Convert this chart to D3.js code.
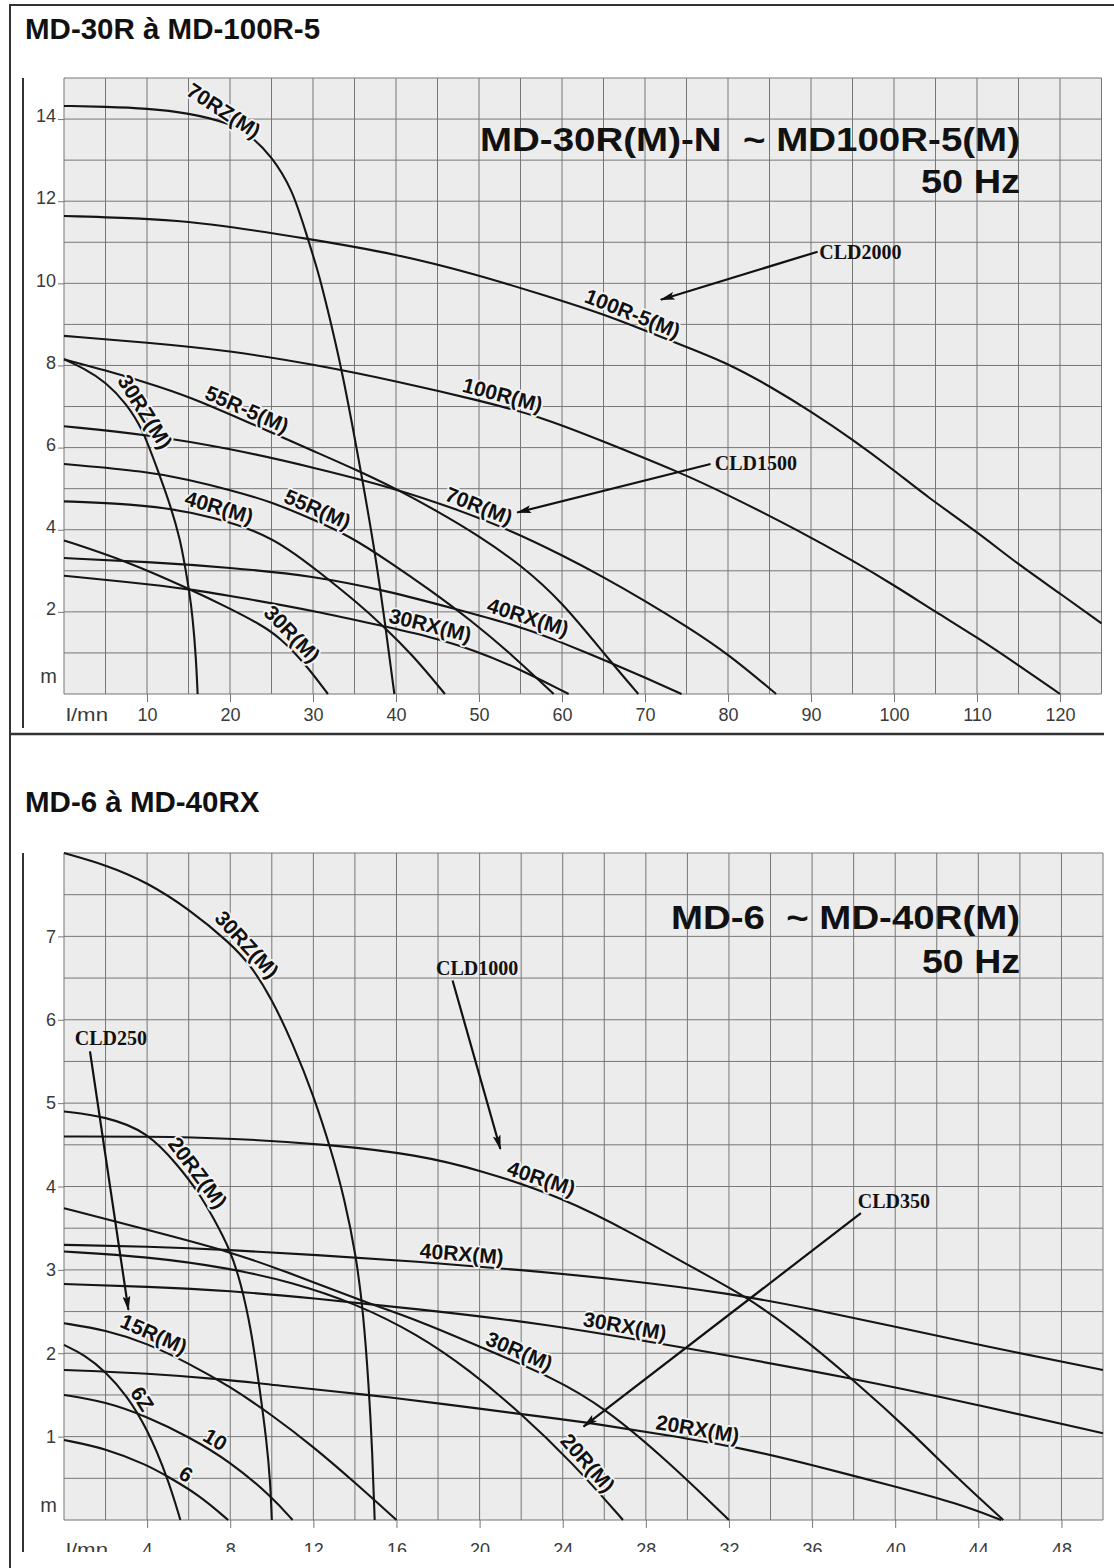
<!DOCTYPE html>
<html><head><meta charset="utf-8">
<script src="https://cdn.jsdelivr.net/npm/d3@7"></script>
<style>
body{margin:0;background:#fff;}
svg{display:block;}
</style></head><body>
<svg id="chart" width="1114" height="1568"></svg>
<script>
// ---------------- TOP CHART DATA (x: l/mn, y: m) ----------------
const topTitle = "MD-30R à MD-100R-5";
const topInner = ["MD-30R(M)-N  ~ MD100R-5(M)", "50 Hz"];
const topXTicks = [10,20,30,40,50,60,70,80,90,100,110,120];
const topYTicks = [2,4,6,8,10,12,14];
const top70RZ = [[0,14.32],[5,14.3],[10,14.26],[15,14.15],[20,13.9],[22.5,13.6],[25,13.1],[27.5,12.3],[29.2,11.2],[30.6,10.3],[31.6,9.5],[33.5,7.9],[35.7,5.5],[37.4,3.55],[38.7,1.7],[39.8,0]];
const top100R5 = [[0,11.64],[10,11.58],[15,11.5],[20,11.38],[29,11.1],[40,10.72],[50,10.2],[58,9.7],[65,9.25],[70,8.85],[75,8.45],[80,8.05],[85,7.5],[90,6.88],[95,6.2],[100,5.45],[104,4.8],[110,3.95],[115,3.15],[120,2.45],[125,1.72]];
const top100R = [[0,8.72],[10,8.56],[20,8.36],[30,8.03],[40,7.62],[50,7.15],[57.5,6.75],[65,6.15],[74.2,5.4],[80,4.85],[88.6,3.97],[95,3.25],[100,2.65],[105,2.0],[110,1.38],[115,0.7],[120,0]];
const top55R5 = [[0,8.15],[5,7.88],[10,7.58],[15,7.25],[22.4,6.6],[30,5.92],[35,5.48],[40,5.0],[45,4.45],[50,3.85],[55,3.15],[60,2.25],[65.4,0.9],[69.2,0]];
const top30RZ = [[0,8.15],[2.5,7.92],[5,7.6],[7.5,7.08],[9.5,6.44],[11.2,5.5],[12.9,4.55],[14,3.75],[14.5,3.2],[15.1,2.5],[15.5,1.87],[15.9,0.9],[16.1,0]];
const top70R = [[0,6.52],[10,6.32],[20,5.98],[30,5.52],[40,5.0],[47,4.52],[54,3.97],[60,3.38],[65,2.85],[70,2.27],[75,1.65],[80,0.98],[85.8,0]];
const top55R = [[0,5.6],[10,5.42],[15,5.22],[20,4.97],[25,4.68],[30,4.25],[34.4,3.85],[39.2,3.22],[44,2.55],[49,1.8],[54,0.95],[59,0]];
const top40R = [[0,4.69],[6,4.65],[12.7,4.53],[18,4.3],[23.2,3.97],[27,3.55],[31.2,2.9],[35,2.28],[38.4,1.67],[42,0.95],[45.9,0]];
const top40RX = [[0,3.31],[10,3.22],[20,3.08],[30,2.88],[39.2,2.5],[47,2.08],[55.7,1.6],[60,1.25],[65.4,0.8],[70,0.4],[74.4,0]];
const top30RX = [[0,2.88],[7.5,2.73],[15.1,2.56],[22,2.32],[30,2.03],[38.5,1.65],[44,1.4],[49.3,1.08],[55,0.6],[60.8,0]];
const top30R = [[0,3.74],[7.5,3.24],[15.1,2.56],[20,2.08],[23.6,1.7],[26,1.38],[29,0.75],[31.8,0]];
const topSeries = [
  {name:"70RZ(M)", pts:top70RZ, at:18.5, rot:33},
  {name:"100R-5(M)", pts:top100R5, at:68},
  {name:"100R(M)", pts:top100R, at:52.5},
  {name:"55R-5(M)", pts:top55R5, at:21.5},
  {name:"30RZ(M)", pts:top30RZ, at:8.6},
  {name:"70R(M)", pts:top70R, at:49.5},
  {name:"55R(M)", pts:top55R, at:30},
  {name:"40R(M)", pts:top40R, at:18.3},
  {name:"40RX(M)", pts:top40RX, at:55.5},
  {name:"30RX(M)", pts:top30RX, at:43.8},
  {name:"30R(M)", pts:top30R, at:26.5}
];
const topNotes = [
  {text:"CLD2000", at:[91.0,10.77], from:[90.8,10.77], to:[71.9,9.6]},
  {text:"CLD1500", at:[78.4,5.63], from:[77.9,5.6], to:[54.6,4.42]}
];

// ---------------- BOTTOM CHART DATA ----------------
const botTitle = "MD-6 à MD-40RX";
const botInner = ["MD-6  ~ MD-40R(M)", "50 Hz"];
const botXTicks = [4,8,12,16,20,24,28,32,36,40,44,48];
const botYTicks = [1,2,3,4,5,6,7];
const bot30RZ = [[0,8.0],[2,7.86],[4,7.65],[6,7.33],[8,6.92],[9,6.65],[10,6.25],[11,5.72],[12,5.1],[12.9,4.4],[13.5,3.85],[14.05,3.18],[14.4,2.5],[14.67,1.6],[14.84,0.8],[14.95,0]];
const bot20RZ = [[0,4.9],[2,4.84],[4,4.66],[5.5,4.25],[6.5,3.92],[7.2,3.62],[8,3.24],[8.5,2.85],[9,2.3],[9.43,1.55],[9.75,0.95],[9.93,0.45],[10,0]];
const bot40R = [[0,4.6],[4,4.6],[8,4.58],[13,4.5],[17,4.38],[20,4.2],[24,3.87],[27.5,3.42],[30,3.06],[32.7,2.7],[35,2.3],[38,1.68],[41,1.0],[43,0.5],[45.2,0]];
const bot40RX = [[0,3.3],[4,3.28],[8,3.24],[12,3.18],[17,3.1],[22,3.0],[27,2.88],[32,2.72],[36,2.53],[40,2.32],[44,2.1],[50,1.8]];
const bot30RX = [[0,2.83],[4,2.8],[8,2.75],[12,2.66],[17,2.53],[23,2.36],[30,2.06],[38,1.7],[44,1.38],[50,1.04]];
const bot30R = [[0,3.74],[4,3.48],[8,3.22],[11,2.95],[14.3,2.63],[17,2.4],[20,2.08],[23.6,1.7],[26,1.35],[29,0.72],[32,0]];
const bot20R = [[0,3.22],[4,3.16],[8,3.02],[11,2.85],[14,2.6],[17,2.23],[19.5,1.8],[21.9,1.3],[24.5,0.68],[26.9,0]];
const bot20RX = [[0,1.8],[4,1.76],[8,1.68],[10,1.62],[14.7,1.5],[18,1.4],[23.6,1.22],[25.4,1.16],[29,1.02],[32.7,0.86],[36,0.66],[40,0.4],[43,0.2],[45.1,0]];
const bot15R = [[0,2.36],[2,2.28],[4,2.12],[6,1.88],[8,1.6],[10,1.26],[12,0.88],[14,0.45],[16,0]];
const bot6Z = [[0,2.1],[1,1.98],[2,1.78],[3,1.5],[4,1.1],[5,0.5],[5.6,0]];
const bot10 = [[0,1.5],[2,1.42],[4,1.24],[6,1.0],[8,0.7],[10,0.28],[11,0]];
const bot6 = [[0,0.96],[2,0.86],[4,0.66],[5,0.52],[6.5,0.3],[7.9,0]];
const botSeries = [
  {name:"30RZ(M)", pts:bot30RZ, at:8.4},
  {name:"20RZ(M)", pts:bot20RZ, at:6.0},
  {name:"40R(M)", pts:bot40R, at:22.8},
  {name:"40RX(M)", pts:bot40RX, at:19.1},
  {name:"30RX(M)", pts:bot30RX, at:26.9},
  {name:"30R(M)", pts:bot30R, at:21.7},
  {name:"20R(M)", pts:bot20R, at:24.8},
  {name:"20RX(M)", pts:bot20RX, at:30.4},
  {name:"15R(M)", pts:bot15R, at:4.1},
  {name:"6Z", pts:bot6Z, at:3.3},
  {name:"10", pts:bot10, at:7.0},
  {name:"6", pts:bot6, at:5.6}
];
const botNotes = [
  {text:"CLD1000", at:[17.9,6.62], from:[18.7,6.47], to:[21.0,4.45]},
  {text:"CLD250", at:[0.52,5.78], from:[1.25,5.62], to:[3.1,2.52]},
  {text:"CLD350", at:[38.2,3.83], from:[38.35,3.68], to:[25.0,1.12]}
];

// ---------------- DRAWING ----------------
const SANS = "'Liberation Sans', Arial, Helvetica, sans-serif";
const SERIF = "'Liberation Serif', 'Times New Roman', serif";
const svg = d3.select("#chart");
svg.append("rect").attr("width",1114).attr("height",1568).attr("fill","#fff");
const defs = svg.append("defs");
defs.append("marker").attr("id","arr").attr("viewBox","0 0 15 8").attr("refX",14).attr("refY",4)
  .attr("markerWidth",15).attr("markerHeight",8).attr("markerUnits","userSpaceOnUse").attr("orient","auto")
  .append("path").attr("d","M0,0 L15,4 L0,8 L3,4 z").attr("fill","#111");

function interpY(pts, xv){
  for(let i=0;i<pts.length-1;i++){
    const a=pts[i], b=pts[i+1];
    if(xv>=a[0] && xv<=b[0]){ const t=(xv-a[0])/(b[0]-a[0]); return a[1]+t*(b[1]-a[1]); }
  }
  return pts[pts.length-1][1];
}

function drawChart(cfg){
  const {x, y, xGrid, yGrid, xTicks, yTicks, series, notes, xPad, yDy, title, titleY, inner, innerY, innerW, unitMY, unitXY} = cfg;
  const g = svg.append("g");
  const [x0,x1] = x.range(), [y0,y1] = y.range();
  g.append("rect").attr("x",x0).attr("y",y1).attr("width",x1-x0).attr("height",y0-y1).attr("fill","#ececec");
  g.append("g").selectAll("line").data(xGrid).join("line")
    .attr("x1",d=>x(d)).attr("x2",d=>x(d)).attr("y1",y0).attr("y2",y1)
    .attr("stroke","#777").attr("stroke-width",1);
  g.append("g").selectAll("line").data(yGrid).join("line")
    .attr("y1",d=>y(d)).attr("y2",d=>y(d)).attr("x1",x0).attr("x2",x1)
    .attr("stroke","#777").attr("stroke-width",1);
  // axes
  const ax = g.append("g").attr("transform",`translate(0,${y0})`)
    .call(d3.axisBottom(x).tickValues(xTicks).tickSize(8).tickPadding(xPad));
  const ay = g.append("g").attr("transform",`translate(${x0},0)`)
    .call(d3.axisLeft(y).tickValues(yTicks).tickSize(6).tickPadding(2));
  [ax,ay].forEach(a=>{
    a.select(".domain").remove();
    a.selectAll("line").attr("stroke","#777");
    a.selectAll("text").style("font-size","18px").style("font-family",SANS).attr("fill","#3a3a3a");
  });
  ay.selectAll("text").attr("dy",yDy);
  g.append("text").attr("x",x0-7).attr("y",unitMY).attr("text-anchor","end")
    .style("font-size","20px").style("font-family",SANS).attr("fill","#3a3a3a").text("m");
  g.append("text").attr("x",x0+2).attr("y",unitXY)
    .style("font-size","18px").style("font-family",SANS).attr("fill","#3a3a3a").text("l/mn")
    .attr("textLength",42).attr("lengthAdjust","spacingAndGlyphs");
  // inner titles
  inner.forEach((t,i)=>{
    g.append("text").attr("x",1020).attr("y",innerY[i]).attr("text-anchor","end")
      .style("font-size","33px").style("font-family",SANS).attr("font-weight","bold").attr("fill","#111")
      .style("white-space","pre").text(t)
      .attr("textLength",innerW[i]).attr("lengthAdjust","spacingAndGlyphs");
  });
  // curves
  const line = d3.line().x(d=>x(d[0])).y(d=>y(d[1])).curve(d3.curveBasis);
  g.append("g").selectAll("path").data(series).join("path")
    .attr("d",d=>line(d.pts)).attr("fill","none").attr("stroke","#151515").attr("stroke-width",2.1);
  // curve labels
  const span = x.domain()[1]-x.domain()[0];
  series.forEach(s=>{
    const dx = span*0.004;
    const xa = s.at, ya = interpY(s.pts, xa);
    const p1=[x(xa-dx), y(interpY(s.pts,xa-dx))], p2=[x(xa+dx), y(interpY(s.pts,xa+dx))];
    const ang = s.rot !== undefined ? s.rot : Math.atan2(p2[1]-p1[1], p2[0]-p1[0])*180/Math.PI;
    g.append("text").attr("transform",`translate(${x(xa)},${y(ya)}) rotate(${ang})`)
      .attr("y",-4).attr("text-anchor","middle")
      .style("font-size","21px").style("font-family",SANS).attr("font-weight","bold")
      .attr("fill","#111").attr("stroke","#f4f4f4").attr("stroke-width",3.5)
      .attr("paint-order","stroke").attr("stroke-linejoin","round").text(s.name);
  });
  // annotations
  notes.forEach(n=>{
    g.append("line").attr("x1",x(n.from[0])).attr("y1",y(n.from[1])).attr("x2",x(n.to[0])).attr("y2",y(n.to[1]))
      .attr("stroke","#111").attr("stroke-width",2.2).attr("marker-end","url(#arr)");
    g.append("text").attr("x",x(n.at[0])).attr("y",y(n.at[1])).attr("dy","0.36em")
      .style("font-family",SERIF).attr("font-weight","bold")
      .style("font-size","20px").attr("fill","#111").text(n.text);
  });
  // section title
  svg.append("text").attr("x",25).attr("y",titleY).style("font-size","29.5px").style("font-family",SANS)
    .attr("font-weight","bold").attr("fill","#111").text(title);
  // left axis bar
  svg.append("line").attr("x1",23).attr("x2",23).attr("y1",y1).attr("y2",cfg.barEnd)
    .attr("stroke","#333").attr("stroke-width",2);
}

drawChart({
  x: d3.scaleLinear().domain([0,125]).range([64,1101.5]),
  y: d3.scaleLinear().domain([0,15]).range([694,78]),
  xGrid: d3.range(0,126,5), yGrid: d3.range(0,16,1),
  xTicks: topXTicks, yTicks: topYTicks, series: topSeries, notes: topNotes,
  xPad: 6, yDy: "0.15em", title: topTitle, titleY: 39,
  inner: topInner, innerY: [151,193], innerW: [540,99], unitMY: 683, unitXY: 721, barEnd: 728
});
drawChart({
  x: d3.scaleLinear().domain([0,50]).range([64,1103]),
  y: d3.scaleLinear().domain([0,8]).range([1520,853]),
  xGrid: d3.range(0,51,2), yGrid: d3.range(0,8.01,0.5),
  xTicks: botXTicks, yTicks: botYTicks, series: botSeries, notes: botNotes,
  xPad: 15, yDy: "0.32em", title: botTitle, titleY: 812,
  inner: botInner, innerY: [929,973], innerW: [349,98], unitMY: 1512, unitXY: 1556, barEnd: 1553
});

// scan cut at the bottom
svg.append("rect").attr("x",13).attr("y",1552).attr("width",1101).attr("height",16).attr("fill","#fff");
// frame lines
svg.append("line").attr("x1",9).attr("x2",1114).attr("y1",5).attr("y2",5).attr("stroke","#333").attr("stroke-width",2);
svg.append("line").attr("x1",9).attr("x2",1104).attr("y1",734).attr("y2",734).attr("stroke","#333").attr("stroke-width",2.5);
svg.append("line").attr("x1",10).attr("x2",10).attr("y1",4).attr("y2",1568).attr("stroke","#333").attr("stroke-width",2);
</script></body></html>
